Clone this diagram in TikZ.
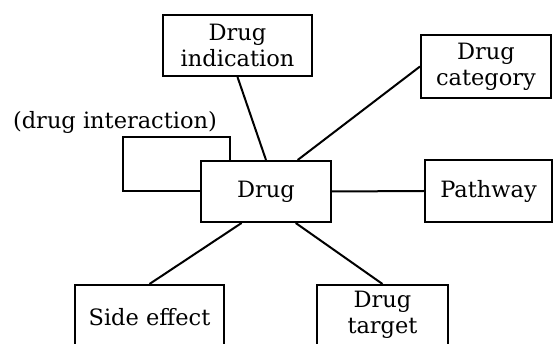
\documentclass[tikz,border=0pt]{standalone}
\usepackage{fontspec}
\newfontfamily\drugfont{DejaVu Serif}
\usetikzlibrary{calc}
\tikzset{
    box/.style={draw, line width=2pt, inner sep=0pt, align=center,
        font=\drugfont\fontsize{22.5}{26}\selectfont},
    link/.style={line width=2pt}
}
\begin{document}
\begin{tikzpicture}[x=1pt, y=-1pt]
    % Frame of the picture
    \useasboundingbox (0,0) rectangle (554,344);
    \clip (0,0) rectangle (554,344);
    
    % Central node
    \node[box, minimum width=130pt, minimum height=61pt] (drug) at (266,191.5) {Drug};
    
    % Surrounding nodes
    \node[box, minimum width=149pt, minimum height=61pt] (indic) at (237.5,45.5) {Drug\\indication};
    \node[box, minimum width=130pt, minimum height=63pt] (categ) at (486,66.5) {Drug\\category};
    \node[box, minimum width=127pt, minimum height=62pt] (pathw) at (488.5,191) {Pathway};
    \node[box, minimum width=149pt, minimum height=64pt] (sidef) at (149.5,317) {Side effect};
    \node[box, minimum width=131pt, minimum height=60pt] (targ) at (382.5,315) {Drug\\target};
    
    % Self loop (drug interaction)
    \coordinate (loopc) at (123,137);
    \draw[link] ($(drug.north)!0.55!(drug.north west)$) |- (loopc) |- (drug.west);
    \node[font=\drugfont\fontsize{22.5}{26}\selectfont] (inter) at (115,122) {(drug interaction)};
    
    % Links
    \draw[link] (indic.south) -- (drug.north);
    \draw[link] (categ.west) -- ($(drug.north)!0.48!(drug.north east)$);
    \draw[link] (drug.east) -- (pathw.west);
    \draw[link] ($(drug.south)!0.37!(drug.south west)$) -- (sidef.north);
    \draw[link] ($(drug.south)!0.45!(drug.south east)$) -- (targ.north);
\end{tikzpicture}
\end{document}
